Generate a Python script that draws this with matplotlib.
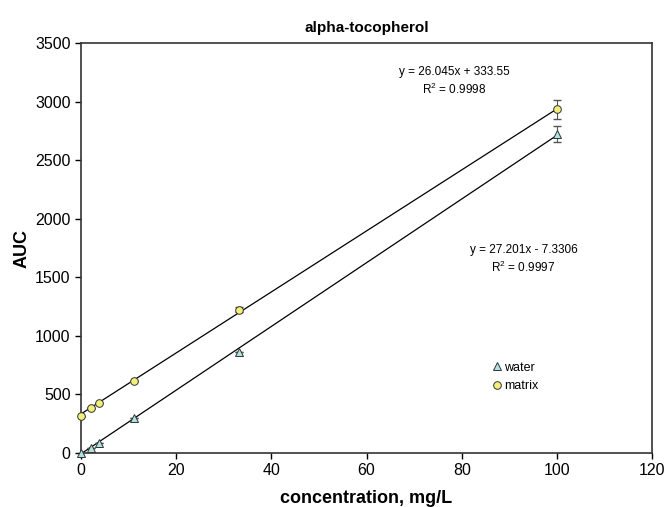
import matplotlib
matplotlib.use("Agg")
import matplotlib.pyplot as plt
from matplotlib.lines import Line2D
import numpy as np

plt.rcParams['font.family'] = ['Liberation Sans', 'DejaVu Sans']

conc = [0, 2.1, 3.7, 11.1, 33.3, 100]
water = [0, 43, 85, 300, 862, 2722]
water_err = [0, 0, 0, 0, 0, 70]
matrix = [318, 387, 430, 615, 1225, 2935]
matrix_err = [0, 0, 0, 0, 25, 80]
fit_water = (27.201, -7.3306)
fit_matrix = (26.045, 333.55)
xticks = [0, 20, 40, 60, 80, 100, 120]
yticks = [0, 500, 1000, 1500, 2000, 2500, 3000, 3500]

fig = plt.figure(figsize=(6.64, 5.07), dpi=100)
ax = fig.add_axes([0.122, 0.1065, 0.860, 0.8085])

xl = np.array([0, 100])
ax.plot(xl, fit_matrix[0] * xl + fit_matrix[1], color='black', lw=0.9, zorder=2)
ax.plot(xl, fit_water[0] * xl + fit_water[1], color='black', lw=0.9, zorder=2)

wstyle = dict(marker='^', ms=5.5, mfc='#aee3e3', mec='#333333', mew=0.7)
mstyle = dict(marker='o', ms=5.5, mfc='#f2f07a', mec='#333333', mew=0.7)

ax.errorbar(conc, water, yerr=water_err, fmt='none', ecolor='#555555',
            elinewidth=0.8, capsize=3, zorder=3)
ax.errorbar(conc, matrix, yerr=matrix_err, fmt='none', ecolor='#555555',
            elinewidth=0.8, capsize=3, zorder=3)
ax.plot(conc, water, ls='none', clip_on=False, zorder=4, **wstyle)
ax.plot(conc, matrix, ls='none', clip_on=False, zorder=4, **mstyle)

ax.set_xlim(0, 120)
ax.set_ylim(0, 3500)
ax.set_xticks(xticks)
ax.set_yticks(yticks)
ax.tick_params(labelsize=11.5, direction='out', length=4, width=1)
for s in ax.spines.values():
    s.set_linewidth(1.2)
    s.set_color('#333333')

ax.set_title('alpha-tocopherol', fontsize=11, fontweight='bold', pad=8)
ax.set_xlabel('concentration, mg/L', fontsize=13, fontweight='bold', labelpad=8)
ax.set_ylabel('AUC', fontsize=13, fontweight='bold', labelpad=3)

ax.text(78.5, 3170, 'y = 26.045x + 333.55\n$\\mathregular{R^2}$ = 0.9998', ha='center', va='center',
        fontsize=8.5, linespacing=1.3)
ax.text(93, 1650, 'y = 27.201x - 7.3306\n$\\mathregular{R^2}$ = 0.9997', ha='center', va='center',
        fontsize=8.5, linespacing=1.3)

handles = [Line2D([], [], ls='none', **wstyle), Line2D([], [], ls='none', **mstyle)]
ax.legend(handles, ['water', 'matrix'], loc='upper left', bbox_to_anchor=(0.697, 0.25),
          frameon=False, fontsize=9, handletextpad=0.1, handlelength=1.0, labelspacing=0.5)

fig.savefig('out.png', dpi=100)
